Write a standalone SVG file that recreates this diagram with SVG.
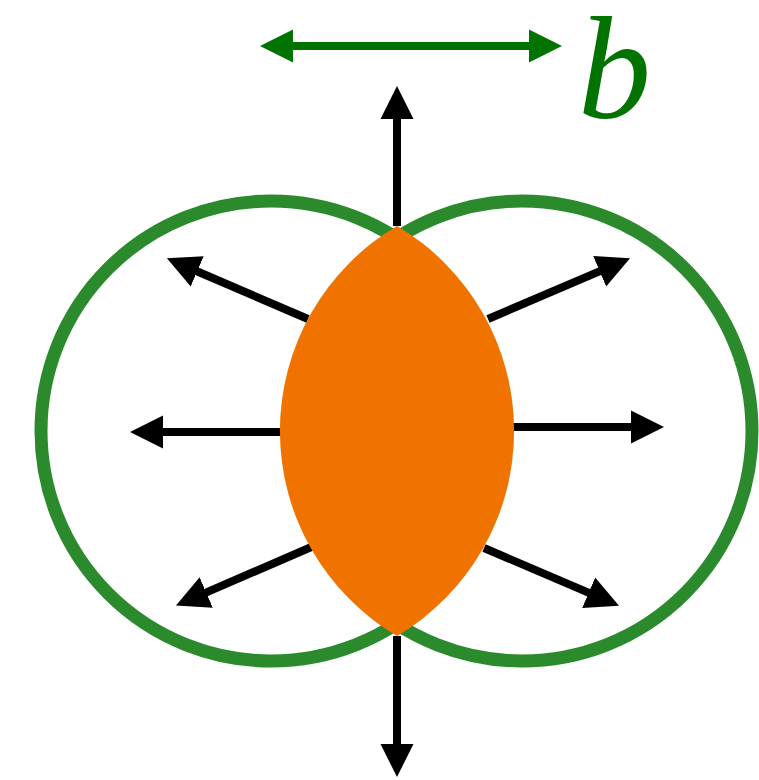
<svg xmlns="http://www.w3.org/2000/svg" width="759" height="780" viewBox="0 0 759 780">
  <defs>
    <marker id="ah" markerUnits="userSpaceOnUse" viewBox="0 0 34 34" markerWidth="34" markerHeight="34" refX="1" refY="17" orient="auto">
      <path d="M0,0.5 L33,17 L0,33.5 Z" fill="#000"/>
    </marker>
    <marker id="ahg" markerUnits="userSpaceOnUse" viewBox="0 0 34 34" markerWidth="34" markerHeight="34" refX="1" refY="17" orient="auto-start-reverse">
      <path d="M0,0.5 L33,17 L0,33.5 Z" fill="#007300"/>
    </marker>
    <style>
      .circ { fill: none; stroke: #2a8a2c; stroke-width: 13; }
      .arr { fill: none; stroke: #000; stroke-width: 8; marker-end: url(#ah); }
      .lens { fill: #f07300; }
    </style>
  </defs>
  <rect width="759" height="780" fill="#fff"/>
  <g id="circle-left"><circle class="circ" cx="271" cy="431" r="230"/></g>
  <g id="circle-right"><circle class="circ" cx="522" cy="431" r="230"/></g>
  <g id="connectors">
    <line class="arr" x1="397" y1="226" x2="397" y2="118"/>
    <line class="arr" x1="397" y1="636" x2="397" y2="745"/>
    <line class="arr" x1="285" y1="432" x2="162" y2="432"/>
    <line class="arr" x1="513" y1="427" x2="632" y2="427"/>
    <line class="arr" x1="308" y1="319" x2="196.3" y2="271"/>
    <line class="arr" x1="488" y1="319" x2="600.6" y2="270.9"/>
    <line class="arr" x1="316" y1="545" x2="205.3" y2="592.9"/>
    <line class="arr" x1="484" y1="548" x2="589.6" y2="593.1"/>
  </g>
  <g id="lens"><path class="lens" d="M397,226 A238,238 0 0 1 397,636 A238,238 0 0 1 397,226 Z"/></g>
  <g id="b-arrow">
    <line x1="292" y1="46" x2="530" y2="46" stroke="#007300" stroke-width="8" marker-start="url(#ahg)" marker-end="url(#ahg)"/>
    <text x="578" y="118" font-family="Liberation Serif, serif" font-style="italic" font-size="146" fill="#007300">b</text>
  </g>
</svg>
